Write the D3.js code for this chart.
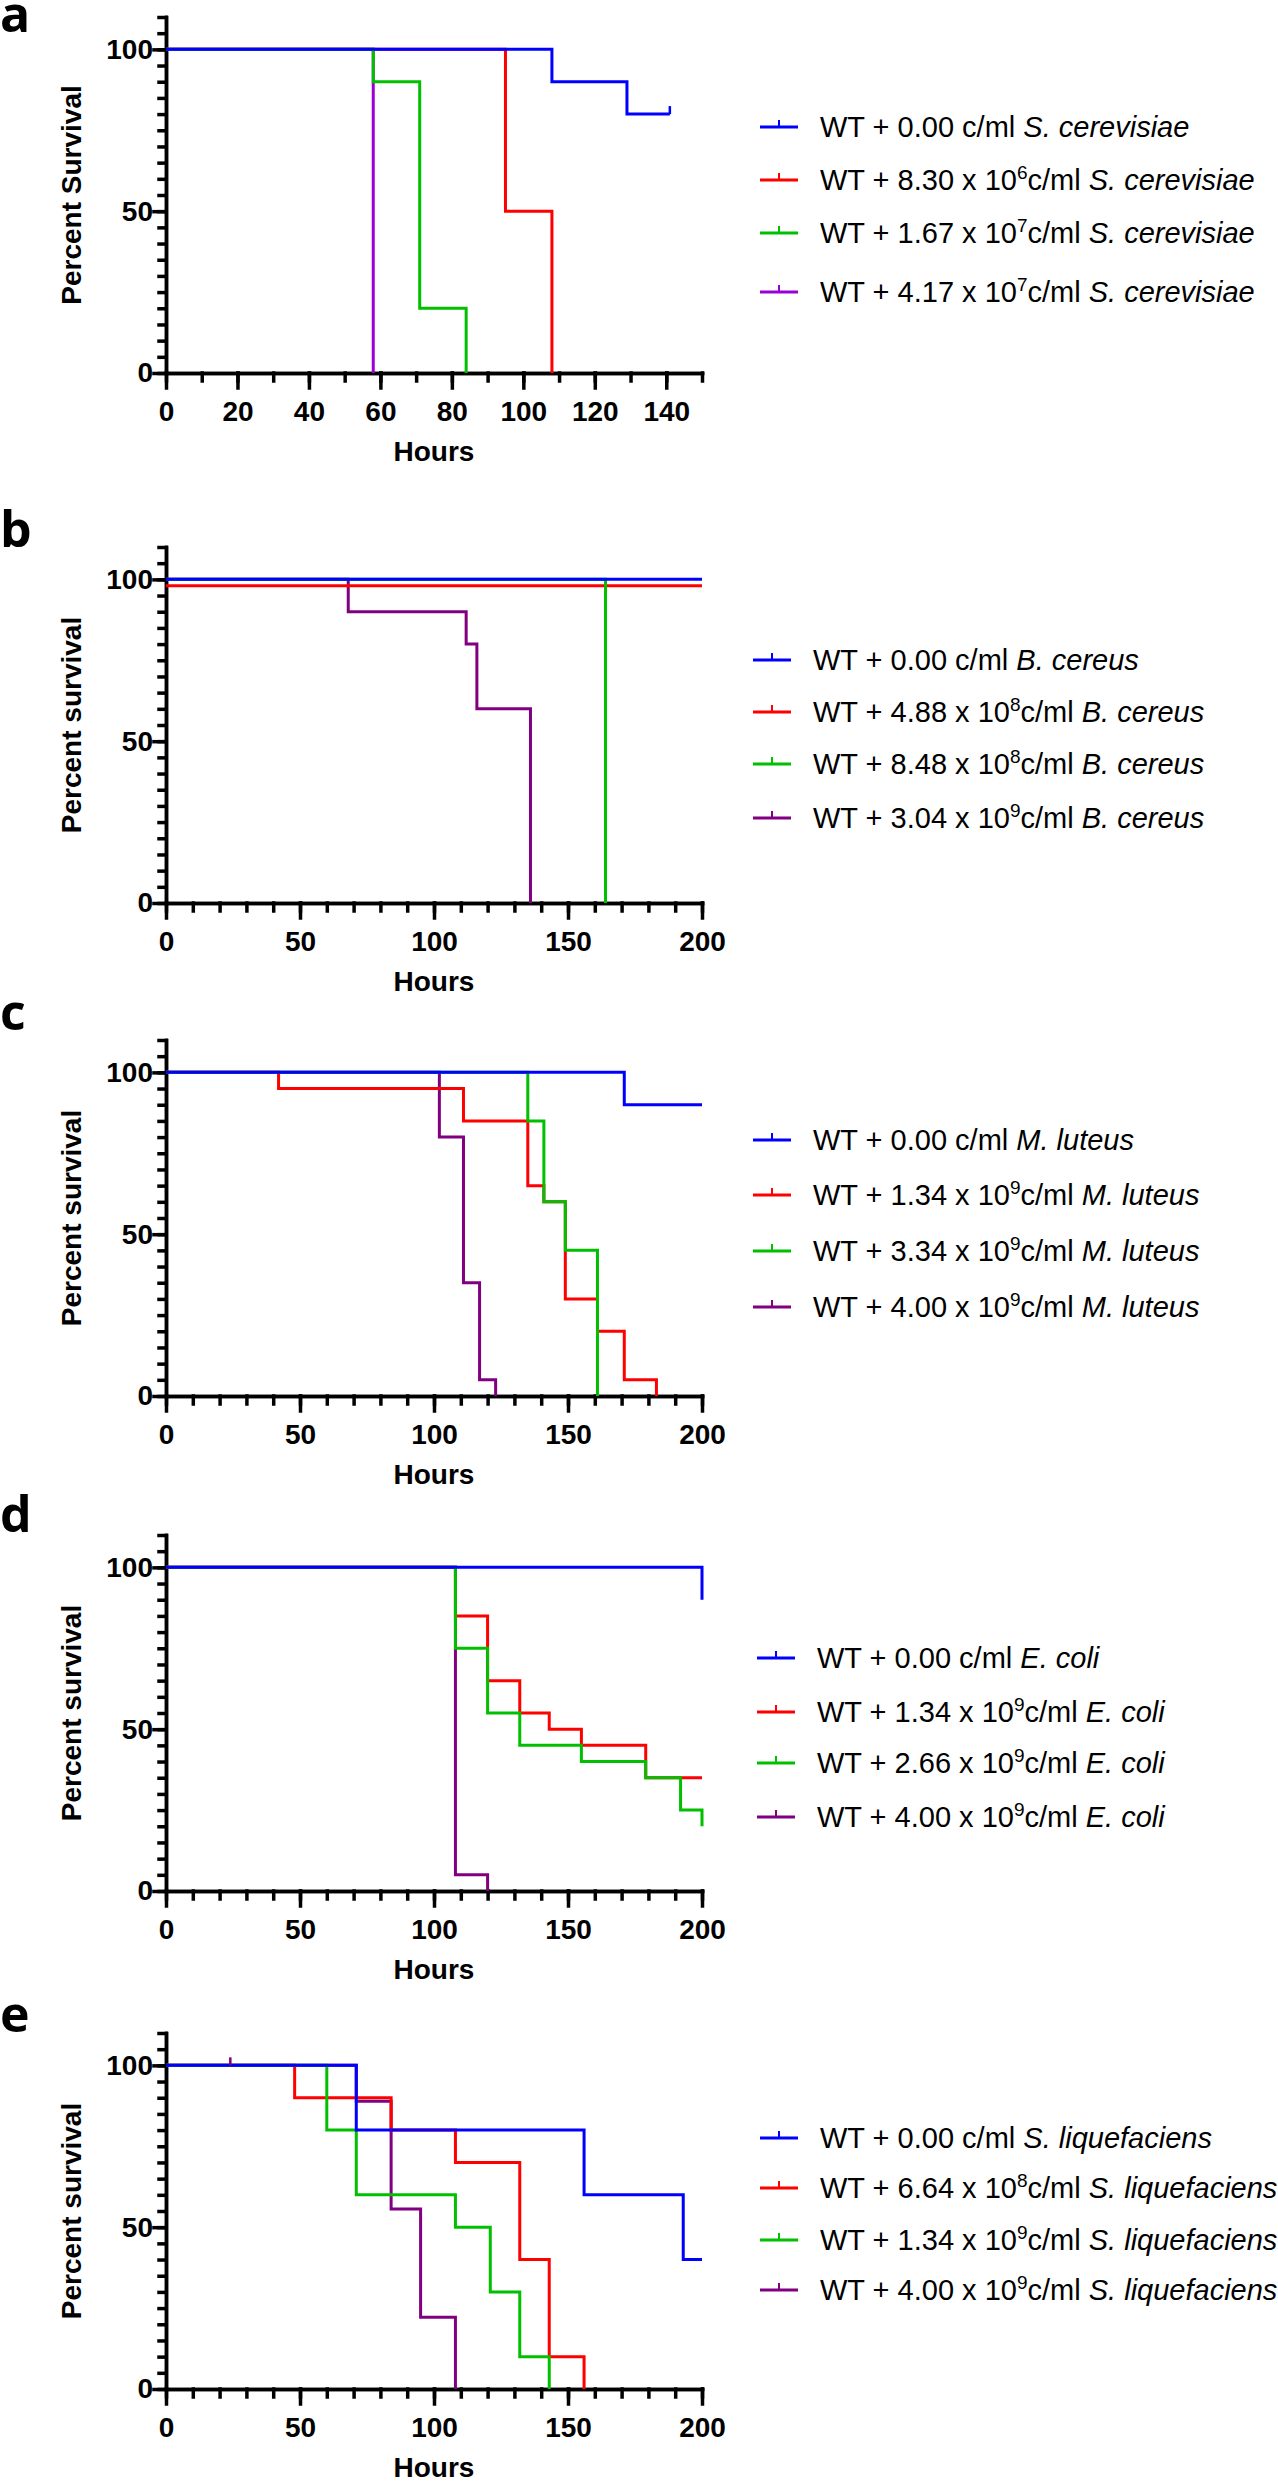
<!DOCTYPE html>
<html><head><meta charset="utf-8">
<script src="https://cdn.jsdelivr.net/npm/d3@7"></script>
<style>body{margin:0;background:#fff}svg{display:block}</style>
</head><body>
<svg id="chart" width="1278" height="2481"></svg>
<script>
// ---------- data ----------
const PANEL_LETTERS = ["a", "b", "c", "d", "e"];
const X_MAX = [150, 200, 200, 200, 200];
const X_LABEL_STEP = [20, 50, 50, 50, 50];
const Y_TICK_LABELS = [0, 50, 100];
const X_TITLE = "Hours";
const Y_TITLES = ["Percent Survival", "Percent survival", "Percent survival", "Percent survival", "Percent survival"];
const SPECIES = ["S. cerevisiae", "B. cereus", "M. luteus", "E. coli", "S. liquefaciens"];
const DOSE_MANTISSA = [
  ["0.00", "8.30", "1.67", "4.17"],
  ["0.00", "4.88", "8.48", "3.04"],
  ["0.00", "1.34", "3.34", "4.00"],
  ["0.00", "1.34", "2.66", "4.00"],
  ["0.00", "6.64", "1.34", "4.00"]
];
const DOSE_EXP = [
  [null, "6", "7", "7"],
  [null, "8", "8", "9"],
  [null, "9", "9", "9"],
  [null, "9", "9", "9"],
  [null, "8", "9", "9"]
];

// survival curves: series order = control, low, mid, high dose
const A_TIMES = [[0, 108, 129, 141], [0, 95, 108], [0, 58, 71, 84], [0, 58]];
const A_SURV  = [[100, 90, 80, 80], [100, 50, 0], [100, 90, 20, 0], [100, 0]];
const B_TIMES = [[0, 200], [0, 200], [0, 164], [0, 68, 112, 116, 136]];
const B_SURV  = [[100, 100], [98, 98], [100, 0], [100, 90, 80, 60, 0]];
const C_TIMES = [[0, 171, 200], [0, 42, 111, 135, 141, 149, 161, 171, 183], [0, 135, 141, 149, 161], [0, 102, 111, 117, 123]];
const C_SURV  = [[100, 90, 90], [100, 95, 85, 65, 60, 30, 20, 5, 0], [100, 85, 60, 45, 0], [100, 80, 35, 5, 0]];
const D_TIMES = [[0, 200, 200], [0, 108, 120, 132, 143, 155, 179, 200], [0, 108, 120, 132, 155, 179, 192, 200, 200], [0, 108, 120]];
const D_SURV  = [[100, 90, 90], [100, 85, 65, 55, 50, 45, 35, 35], [100, 75, 55, 45, 40, 35, 25, 20, 20], [100, 5, 0]];
const E_TIMES = [[0, 71, 156, 193, 200], [0, 48, 84, 108, 132, 143, 156], [0, 60, 71, 108, 121, 132, 143], [0, 71, 84, 95, 108]];
const E_SURV  = [[100, 80, 60, 40, 40], [100, 90, 80, 70, 40, 10, 0], [100, 80, 60, 50, 30, 10, 0], [100, 88.9, 55.6, 22.2, 0]];

// censored observations: [series index, time, survival]
const A_CENSOR = [[0, 141, 80]];
const E_CENSOR = [[3, 24, 100]];

const ALL_TIMES = [A_TIMES, B_TIMES, C_TIMES, D_TIMES, E_TIMES];
const ALL_SURV = [A_SURV, B_SURV, C_SURV, D_SURV, E_SURV];
const ALL_CENSOR = [A_CENSOR, [], [], [], E_CENSOR];

// ---------- layout / style ----------
const COLORS_A = ["#0000ff", "#ff0000", "#00c000", "#9b00d3"];
const COLORS = ["#0000ff", "#ff0000", "#00c000", "#800080"];
const PANEL_TOP = [17, 547, 1040, 1535, 2033];   // y of 110 %
const PLOT_H = 356;                               // 0..110 %
const X0 = 166, X1 = 702;
const LEGEND_X = [760, 753, 753, 757, 760];
const LEGEND_DY = [[110, 163, 216, 275], [113, 165, 217, 271], [100, 155, 211, 267], [123, 177, 228, 282], [105, 155, 207, 257]];
const LETTER_Y = [32, 547, 1030, 1532, 2032];
const DRAW_ORDER = [3, 1, 2, 0];

const FONT = "'Liberation Sans', Arial, Helvetica, sans-serif";
const svg = d3.select("#chart");

PANEL_LETTERS.forEach((letter, p) => {
  const top = PANEL_TOP[p];
  const x = d3.scaleLinear().domain([0, X_MAX[p]]).range([X0, X1]);
  const y = d3.scaleLinear().domain([0, 110]).range([top + PLOT_H, top]);
  const g = svg.append("g");
  const colors = p === 0 ? COLORS_A : COLORS;

  // panel letter
  svg.append("text").attr("x", 0).attr("y", LETTER_Y[p])
    .attr("font-family", "'Open Sans', 'Liberation Sans', sans-serif")
    .attr("font-weight", 700).attr("font-size", 50).text(letter);

  // x axis: minor + major ticks
  const xMinor = d3.axisBottom(x).tickValues(d3.range(0, X_MAX[p] + 1, 10)).tickSize(8).tickSizeOuter(0).tickFormat("");
  const xMajor = d3.axisBottom(x).tickValues(d3.range(0, X_MAX[p] + 1, X_LABEL_STEP[p])).tickSize(15).tickSizeOuter(0).tickPadding(13);
  const yMinor = d3.axisLeft(y).tickValues(d3.range(0, 111, 5)).tickSize(7).tickSizeOuter(0).tickFormat("");
  const yMajor = d3.axisLeft(y).tickValues(Y_TICK_LABELS).tickSize(12).tickSizeOuter(0).tickPadding(1);

  [xMinor, xMajor].forEach(ax => {
    g.append("g").attr("transform", `translate(0,${y(0)})`).call(ax);
  });
  [yMinor, yMajor].forEach(ax => {
    g.append("g").attr("transform", `translate(${X0},0)`).call(ax);
  });
  g.selectAll(".domain, .tick line").attr("stroke", "#000").attr("stroke-width", 3.5).attr("stroke-linecap", "square");
  g.selectAll(".tick text").attr("font-family", FONT).attr("font-weight", 700)
    .attr("font-size", 28).attr("fill", "#000");

  // axis titles
  g.append("text").attr("x", (X0 + X1) / 2).attr("y", y(0) + 88)
    .attr("text-anchor", "middle").attr("font-family", FONT).attr("font-weight", 700)
    .attr("font-size", 28).text(X_TITLE);
  g.append("text").attr("transform", `translate(81,${top + PLOT_H / 2}) rotate(-90)`)
    .attr("text-anchor", "middle").attr("font-family", FONT).attr("font-weight", 700)
    .attr("font-size", 28).text(Y_TITLES[p]);

  // survival curves
  const line = d3.line().curve(d3.curveStepAfter).x(d => x(d[0])).y(d => y(d[1]));
  DRAW_ORDER.forEach(s => {
    const pts = d3.zip(ALL_TIMES[p][s], ALL_SURV[p][s]);
    g.append("path").attr("d", line(pts)).attr("fill", "none")
      .attr("stroke", colors[s]).attr("stroke-width", 3);
  });
  ALL_CENSOR[p].forEach(([s, t, v]) => {
    g.append("line").attr("x1", x(t)).attr("x2", x(t)).attr("y1", y(v)).attr("y2", y(v) - 8)
      .attr("stroke", colors[s]).attr("stroke-width", 2.5);
  });

  // legend
  const lx = LEGEND_X[p];
  LEGEND_DY[p].forEach((dy, s) => {
    const ly = top + dy;
    g.append("line").attr("x1", lx).attr("x2", lx + 38).attr("y1", ly).attr("y2", ly)
      .attr("stroke", colors[s]).attr("stroke-width", 3);
    g.append("line").attr("x1", lx + 19).attr("x2", lx + 19).attr("y1", ly).attr("y2", ly - 7)
      .attr("stroke", colors[s]).attr("stroke-width", 2);
    const t = g.append("text").attr("x", lx + 60).attr("y", ly + 10)
      .attr("font-family", FONT).attr("font-size", 29).attr("fill", "#000");
    if (DOSE_EXP[p][s] === null) {
      t.append("tspan").text(`WT + ${DOSE_MANTISSA[p][s]} c/ml `);
    } else {
      t.append("tspan").text(`WT + ${DOSE_MANTISSA[p][s]} x 10`);
      t.append("tspan").attr("font-size", 19).attr("dy", -11).text(DOSE_EXP[p][s]);
      t.append("tspan").attr("dy", 11).text("c/ml ");
    }
    t.append("tspan").attr("font-style", "italic").text(SPECIES[p]);
  });
});
</script>
</body></html>
